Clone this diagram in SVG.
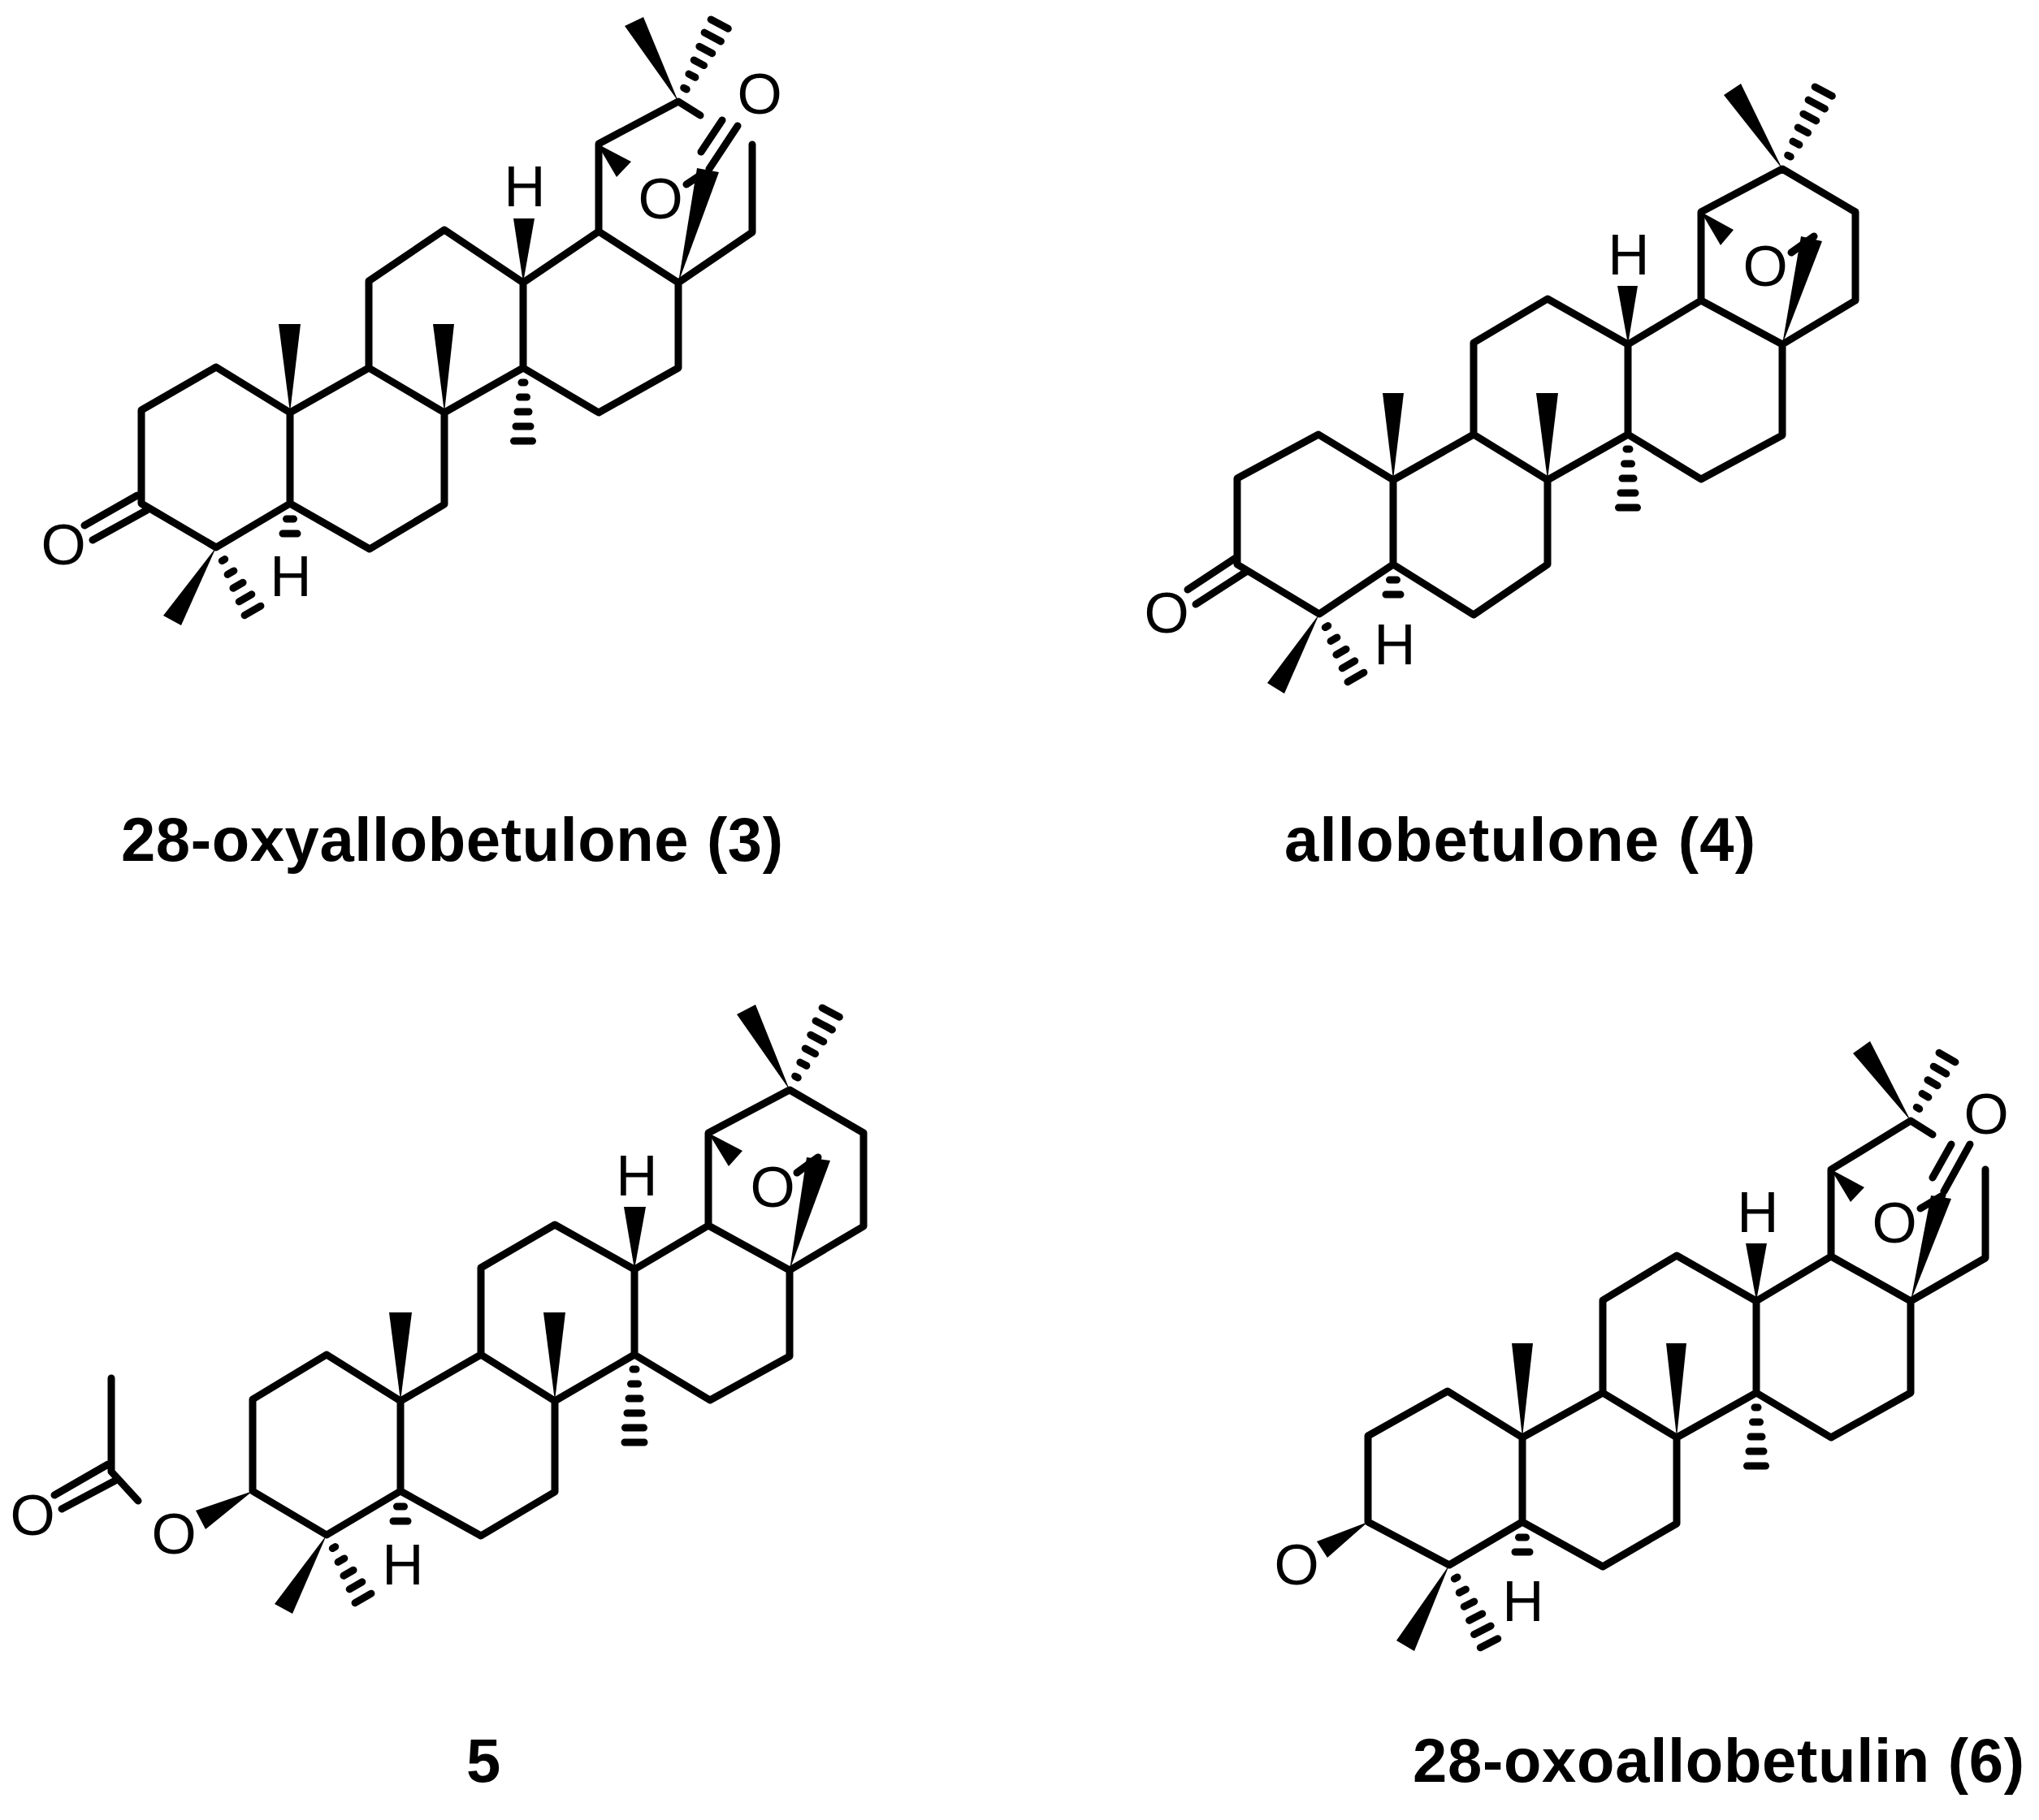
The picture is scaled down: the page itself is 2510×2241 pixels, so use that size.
<svg xmlns="http://www.w3.org/2000/svg" width="2510" height="2241" viewBox="0 0 2510 2241">
<style>
.b{fill:none;stroke:#000;stroke-width:9;stroke-linecap:round;stroke-linejoin:round}
.w{fill:#000;stroke:none}
.a{font-family:"Liberation Sans",Arial,sans-serif;font-size:71px;fill:#000;text-anchor:middle}
.t{font-family:"Liberation Sans",Arial,sans-serif;font-size:76px;font-weight:bold;fill:#000}
</style>
<defs>
<g id="h2" class="b"><path d="M19-4.500V4.500M37-9V9"/></g>
<g id="h5" class="b"><path d="M18-2V2M36-4.500V4.500M54-7V7M72-9V9M90-11.500V11.500"/></g>
<g id="h6" class="b"><path d="M18-2V2M36-4.500V4.500M54-7V7M72-9V9M90-11.500V11.500M108-12V12"/></g>
</defs>
<rect width="2510" height="2241" fill="#fff"/>

<g id="mol3">
<g id="mol3-bonds" class="b"><path d="M174 620V505L266 452L357 508V620L266 674ZM357 508L454 453L547 508V621L455 676L357 620M454 453V346L547 283L644 348V453L547 508M644 348L737 285L835 348V453L737 508L644 453M737 285V177L835 125L862 142M835 348L926 286V178M863 187L889 148M873 208L908 155M845 227L860 217M104 647L169 610M114 665L181 628"/></g>
<g id="mol3-stereo">
<polygon class="w" points="835,125 769,32 792,21"/>
<polygon class="w" points="735,177 777,199 759,218"/>
<polygon class="w" points="835,348 858,207 885,212"/>
<polygon class="w" points="357,508 343,399 370,399"/>
<polygon class="w" points="547,508 533,399 559,399"/>
<polygon class="w" points="644,348 632,269 658,269"/>
<polygon class="w" points="266,674 201,758 223,770"/>
<use href="#h6" transform="translate(835,125) rotate(-62)"/>
<use href="#h5" transform="translate(644,453) rotate(90)"/>
<use href="#h2" transform="translate(357,620) rotate(90)"/>
<use href="#h5" transform="translate(266,674) rotate(60)"/>
</g>
<g id="mol3-labels">
<text class="a" x="935" y="140">O</text>
<text class="a" x="813" y="269">O</text>
<text class="a" x="78" y="695">O</text>
<text class="a" x="646" y="254">H</text>
<text class="a" x="358" y="734">H</text>
</g>
<text class="t" x="149" y="1060" textLength="815">28-oxyallobetulone (3)</text>
</g>

<g id="mol4">
<g id="mol4-bonds" class="b"><path d="M1523 695V589L1623 535L1715 591V695L1624 756ZM1715 591L1814 535L1905 591V695L1814 757L1715 695M1814 535V422L1905 368L2004 424V535L1905 591M2004 424L2094 370L2194 424V536L2094 590L2004 535M2094 370V261L2194 208L2284 261V370L2194 424M2205 311L2233 291M1462 726L1521 687M1472 744L1534 704"/></g>
<g id="mol4-stereo">
<polygon class="w" points="2194,208 2122,117 2143,103"/>
<polygon class="w" points="2094,261 2134,283 2118,302"/>
<polygon class="w" points="2194,424 2217,291 2243,297"/>
<polygon class="w" points="1715,591 1702,484 1728,484"/>
<polygon class="w" points="1905,591 1891,484 1918,484"/>
<polygon class="w" points="2004,424 1991,352 2016,352"/>
<polygon class="w" points="1624,756 1560,841 1581,854"/>
<use href="#h6" transform="translate(2194,208) rotate(-62)"/>
<use href="#h5" transform="translate(2004,535) rotate(90)"/>
<use href="#h2" transform="translate(1715,695) rotate(90)"/>
<use href="#h5" transform="translate(1624,756) rotate(60)"/>
</g>
<g id="mol4-labels">
<text class="a" x="2173" y="352">O</text>
<text class="a" x="1436" y="779">O</text>
<text class="a" x="2005" y="338">H</text>
<text class="a" x="1717" y="818">H</text>
</g>
<text class="t" x="1581" y="1060" textLength="580">allobetulone (4)</text>
</g>

<g id="mol5">
<g id="mol5-bonds" class="b"><path d="M311 1836V1723L402 1668L493 1725V1836L402 1890ZM493 1725L592 1668L683 1725V1837L592 1891L493 1836M592 1668V1561L683 1508L781 1563V1668L683 1725M781 1563L872 1509L972 1564V1670L874 1724L781 1668M872 1509V1395L972 1342L1063 1395V1510L972 1564M981 1444L1007 1425M137 1697V1812L170 1848M67 1841L133 1803M76 1858L142 1823"/></g>
<g id="mol5-stereo">
<polygon class="w" points="972,1342 907,1249 930,1237"/>
<polygon class="w" points="872,1395 914,1417 897,1436"/>
<polygon class="w" points="972,1564 993,1425 1022,1429"/>
<polygon class="w" points="493,1725 479,1616 507,1616"/>
<polygon class="w" points="683,1725 669,1616 696,1616"/>
<polygon class="w" points="781,1563 768,1486 795,1486"/>
<polygon class="w" points="402,1890 338,1975 360,1987"/>
<polygon class="w" points="311,1836 241,1860 253,1883"/>
<use href="#h6" transform="translate(972,1342) rotate(-62)"/>
<use href="#h6" transform="translate(781,1668) rotate(90)"/>
<use href="#h2" transform="translate(493,1836) rotate(90)"/>
<use href="#h5" transform="translate(402,1890) rotate(60)"/>
</g>
<g id="mol5-labels">
<text class="a" x="951" y="1486">O</text>
<text class="a" x="214" y="1913">O</text>
<text class="a" x="40" y="1890">O</text>
<text class="a" x="784" y="1472">H</text>
<text class="a" x="496" y="1951">H</text>
</g>
<text class="t" x="574" y="2194">5</text>
</g>

<g id="mol6">
<g id="mol6-bonds" class="b"><path d="M1684 1874V1768L1782 1713L1874 1770V1874L1784 1927ZM1874 1770L1973 1715L2064 1770V1876L1973 1929L1874 1874M1973 1715V1601L2064 1546L2162 1602V1715L2064 1770M2162 1602L2254 1547L2352 1602V1715L2254 1770L2162 1715M2254 1547V1440L2352 1380L2379 1397M2352 1602L2444 1549V1440M2379 1450L2402 1409M2393 1467L2425 1409M2364 1488L2391 1472"/></g>
<g id="mol6-stereo">
<polygon class="w" points="2352,1380 2281,1297 2302,1282"/>
<polygon class="w" points="2254,1440 2295,1462 2278,1480"/>
<polygon class="w" points="2352,1602 2377,1472 2402,1476"/>
<polygon class="w" points="1874,1770 1861,1654 1887,1654"/>
<polygon class="w" points="2064,1770 2051,1654 2076,1654"/>
<polygon class="w" points="2162,1602 2149,1531 2175,1531"/>
<polygon class="w" points="1784,1927 1719,2020 1741,2033"/>
<polygon class="w" points="1684,1874 1621,1898 1634,1918"/>
<use href="#h5" transform="translate(2352,1380) rotate(-60)"/>
<use href="#h5" transform="translate(2162,1715) rotate(90)"/>
<use href="#h2" transform="translate(1874,1874) rotate(90)"/>
<use href="#h6" transform="translate(1784,1927) rotate(63)"/>
</g>
<g id="mol6-labels">
<text class="a" x="2445" y="1396">O</text>
<text class="a" x="2332" y="1530">O</text>
<text class="a" x="1596" y="1951">O</text>
<text class="a" x="2164" y="1517">H</text>
<text class="a" x="1875" y="1996">H</text>
</g>
<text class="t" x="1739" y="2194" textLength="753">28-oxoallobetulin (6)</text>
</g>
</svg>
